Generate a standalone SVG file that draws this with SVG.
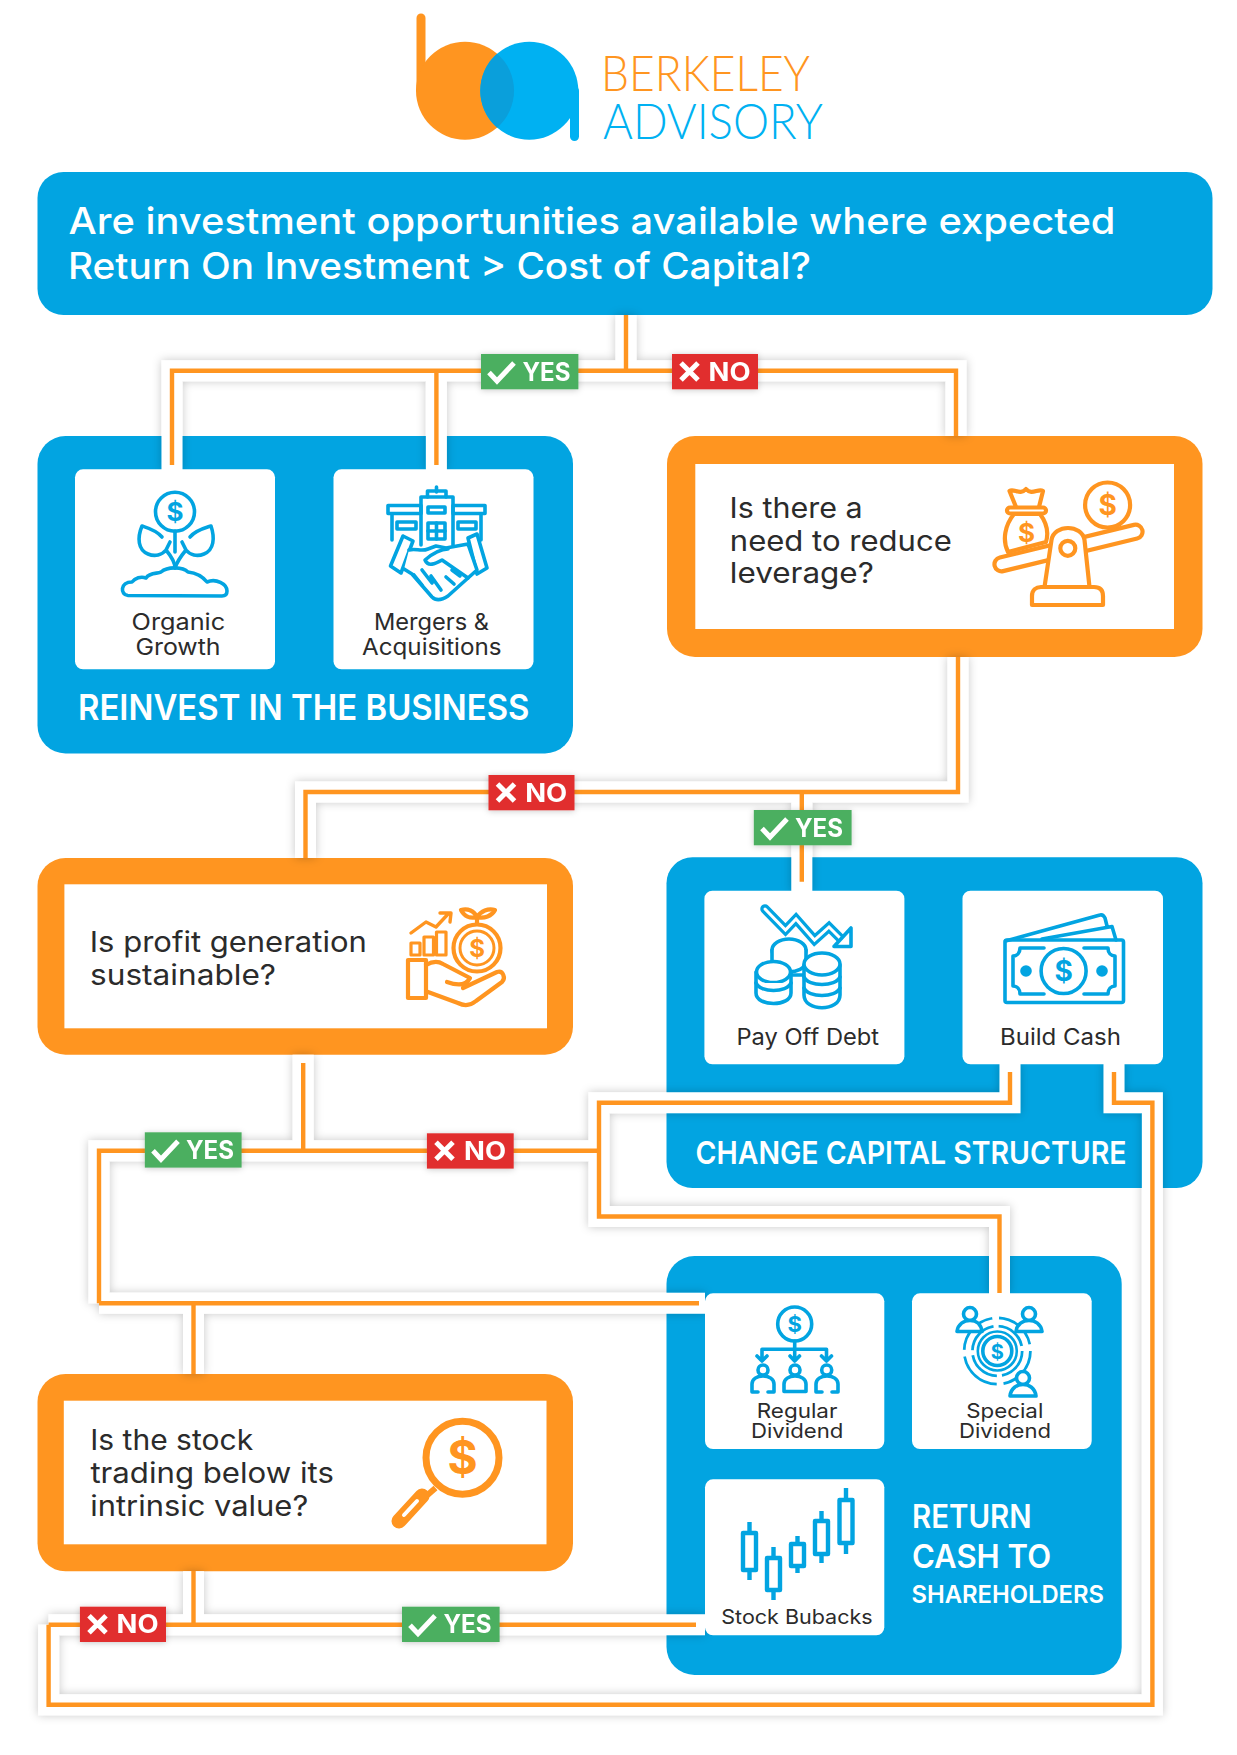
<svg xmlns="http://www.w3.org/2000/svg" xmlns:xlink="http://www.w3.org/1999/xlink" width="1237" height="1755" viewBox="0 0 1237 1755">
<style>
text{font-family:"Inter","Noto Sans","Liberation Sans",sans-serif}
.blue{fill:#02a4e1}.orange{fill:#ff9520}.white{fill:#fff}
.q{font-size:28.5px;font-weight:400;fill:#2b2b2b}
.c{font-size:22.5px;font-weight:400;fill:#2b2b2b}
.s{font-size:20px;font-weight:400;fill:#2b2b2b}
.h{font-size:37px;font-weight:500;fill:#fff}
.g{font-weight:600;fill:#fff}
.b{font-size:25px;font-weight:700;fill:#fff}
.halo{fill:none;stroke:#fff;stroke-width:21;stroke-linejoin:miter}
.wire{fill:none;stroke:#ff9520;stroke-width:4.4;stroke-linejoin:miter}
.ib{fill:none;stroke:#02a4e1;stroke-width:3.6;stroke-linecap:round;stroke-linejoin:round}
.io{fill:none;stroke:#ff9520;stroke-width:4.2;stroke-linecap:round;stroke-linejoin:round}
.fw{fill:#fff}
.db{fill:#02a4e1;font-weight:700;text-anchor:middle}
.do{fill:#ff9520;font-weight:700;text-anchor:middle}
.mk{fill:none;stroke:#fff;stroke-width:5}
.gn{fill:#4caf60}.rd{fill:#e12f2f}
</style>
<defs>
<filter id="sh" filterUnits="userSpaceOnUse" x="0" y="0" width="1237" height="1755"><feDropShadow dx="0" dy="0" stdDeviation="5" flood-color="#000" flood-opacity="0.22"/></filter>
<filter id="bs" x="-20%" y="-30%" width="140%" height="160%"><feDropShadow dx="0" dy="1" stdDeviation="3" flood-color="#000" flood-opacity="0.2"/></filter>
<path id="check" class="mk" d="M0 10.5 L8 19 L25 1"/>
<path id="cross" class="mk" d="M1 1 L18 18 M18 1 L1 18" stroke-width="5.5"/>
</defs>
<rect width="1237" height="1755" fill="#fff"/>

<g id="logo">
<path d="M421 18 V90.7 M421 90.7" fill="none" stroke="#ff9520" stroke-width="9" stroke-linecap="round"/>
<circle cx="465" cy="90.7" r="49" fill="#ff9520"/>
<circle cx="529.3" cy="90.7" r="49" fill="#00b1f2"/>
<path d="M574.5 90.7 V136.5" fill="none" stroke="#00b1f2" stroke-width="9" stroke-linecap="round"/>
<path d="M497.15 53.7 A49 49 0 0 1 497.15 127.7 A49 49 0 0 1 497.15 53.7Z" fill="#0a9fdb"/>
<text x="601" y="90.5" font-size="50" font-weight="300" fill="#ff9520" textLength="209" lengthAdjust="spacingAndGlyphs" style="font-family:Lato,'Open Sans',sans-serif">BERKELEY</text>
<text x="603" y="139" font-size="49" font-weight="300" fill="#00b1f2" textLength="220" lengthAdjust="spacingAndGlyphs" style="font-family:Lato,'Open Sans',sans-serif">ADVISORY</text>
</g>

<g id="n-header">
<rect x="37.5" y="172" width="1175" height="143" rx="26" class="blue"/>
<text x="68.5" y="234" class="h" textLength="1047" lengthAdjust="spacingAndGlyphs">Are investment opportunities available where expected</text>
<text x="68" y="279" class="h" textLength="743" lengthAdjust="spacingAndGlyphs">Return On Investment &gt; Cost of Capital?</text>
</g>

<g id="n-reinvest">
<rect x="37.5" y="436" width="535.5" height="317.5" rx="28" class="blue"/>
<text x="78" y="719.5" class="g" font-size="36" textLength="451.5" lengthAdjust="spacingAndGlyphs">REINVEST IN THE BUSINESS</text>
</g>
<g id="n-leverage">
<rect x="667" y="436" width="535.5" height="221" rx="28" class="orange"/>
<rect x="695.3" y="464" width="478.7" height="165" class="white"/>
<text x="729.6" y="517.7" class="q" textLength="133" lengthAdjust="spacingAndGlyphs">Is there a</text>
<text x="729.8" y="550.5" class="q" textLength="222" lengthAdjust="spacingAndGlyphs">need to reduce</text>
<text x="729.8" y="583.3" class="q" textLength="144" lengthAdjust="spacingAndGlyphs">leverage?</text>
<g>
<rect x="992.5" y="541" width="152" height="14" rx="7" class="io fw" transform="rotate(-13.7 1068.5 548)"/>
<path class="io fw" d="M1014 514 C1005 525 1002 540 1008 552 L1046 542 C1049 532 1046 522 1040 514Z"/>
<path class="io" d="M1016 507 L1009.5 491 C1014 488 1020 496 1026 489 C1032 496 1038 488 1043 491 L1039 507"/>
<rect x="1007" y="507.5" width="39" height="6" rx="3" class="io fw"/>
<text x="1026.5" y="542" font-size="26" class="do">$</text>
<circle cx="1107.6" cy="505" r="22.5" class="io fw"/>
<text x="1107.6" y="515" font-size="28" class="do">$</text>
<path class="io fw" d="M1044.5 587 L1051.5 540 C1054 524 1082 524 1084.5 540 L1089.5 587Z"/>
<circle cx="1067.8" cy="548.3" r="7.5" class="io fw"/>
<path class="io fw" d="M1032 605 V596 C1032 590 1036 587 1041 587 H1094 C1100 587 1103 590 1103 596 V605Z"/>
</g>
</g>
<g id="n-change">
<rect x="666.5" y="857.3" width="536" height="330.7" rx="26" class="blue"/>
<text x="695.5" y="1164.3" class="g" font-size="31.5" textLength="431" lengthAdjust="spacingAndGlyphs">CHANGE CAPITAL STRUCTURE</text>
</g>
<g id="n-return">
<rect x="666.5" y="1256" width="455.2" height="419" rx="28" class="blue"/>
<text x="912" y="1528" class="g" font-size="32" textLength="119.5" lengthAdjust="spacingAndGlyphs">RETURN</text>
<text x="912" y="1568" class="g" font-size="32" textLength="139" lengthAdjust="spacingAndGlyphs">CASH TO</text>
<text x="911.5" y="1602.5" class="g" font-size="24" textLength="192.5" lengthAdjust="spacingAndGlyphs">SHAREHOLDERS</text>
</g>
<g id="n-sustain">
<rect x="37.5" y="858" width="535.5" height="196.7" rx="28" class="orange"/>
<rect x="64.4" y="884.3" width="482.6" height="144" class="white"/>
<text x="89.8" y="951.5" class="q" textLength="277" lengthAdjust="spacingAndGlyphs">Is profit generation</text>
<text x="90" y="984.8" class="q" textLength="186" lengthAdjust="spacingAndGlyphs">sustainable?</text>
<g>
<circle cx="477" cy="948" r="23.5" class="io"/>
<circle cx="477" cy="948" r="17" class="io" style="stroke-width:3"/>
<text x="477" y="957" font-size="24" class="do">$</text>
<path class="io" d="M477 924 V916 M477 917 C470 919 464 916 461 910 C468 908 474 911 477 917 C481 911 488 908 495 910 C492 916 484 919 477 917"/>
<rect x="411" y="943" width="9" height="12" class="io" style="stroke-width:3.2"/>
<rect x="424" y="937" width="9.5" height="18" class="io" style="stroke-width:3.2"/>
<rect x="436.5" y="932" width="9.5" height="23" class="io" style="stroke-width:3.2"/>
<path class="io" style="stroke-width:3.4" d="M411 933 L426 922 L436 927 L449 913 M440 913 H451 L450 922"/>
<rect x="408" y="960" width="18" height="38" class="io"/>
<path class="io" d="M426 965 C433 961 438 961 443 964 L470 978 C466 986 458 986 447 982 M463 988 L497 972 C503 970 506 978 502 982 L476 1001 C470 1006 464 1006 458 1003 L428 992"/>
</g>
</g>
<g id="n-stock">
<rect x="37.5" y="1374" width="535.5" height="197.3" rx="28" class="orange"/>
<rect x="63.8" y="1400.7" width="482.7" height="143.6" class="white"/>
<text x="90.2" y="1449.8" class="q" textLength="163" lengthAdjust="spacingAndGlyphs">Is the stock</text>
<text x="90.4" y="1482.7" class="q" textLength="243.5" lengthAdjust="spacingAndGlyphs">trading below its</text>
<text x="90.2" y="1516" class="q" textLength="218" lengthAdjust="spacingAndGlyphs">intrinsic value?</text>
<g>
<circle cx="462.5" cy="1457.7" r="36.5" fill="none" stroke="#ff9520" stroke-width="7"/>
<text x="462.5" y="1474" font-size="46" class="do">$</text>
<path d="M435.5 1488 L424 1498" fill="none" stroke="#ff9520" stroke-width="6"/>
<path d="M422 1496 L399 1521" fill="none" stroke="#ff9520" stroke-width="15" stroke-linecap="round"/>
<path d="M417 1501 L404 1515" fill="none" stroke="#fff" stroke-width="4" stroke-linecap="round"/>
</g>
</g>

<g id="connectors">
<g filter="url(#sh)">
<path class="halo" d="M172 470 V370.7 H956 V436 M436.4 470 V370.7 M626 315 V370.7"/>
<path class="halo" d="M958 657 V792 H305.5 V858 M801.8 792 V892"/>
<path class="halo" d="M303.2 1054.7 V1150.7 M99 1303.3 V1150.7 H599"/>
<path class="halo" d="M1010 1063 V1102.7 H599 V1216.5 H999.5 V1294"/>
<path class="halo" d="M99 1303.3 H705 M193.5 1303.3 V1374 M193.5 1571.3 V1624.7 M48.6 1624.7 H705 M48.6 1624.7 V1704.7 H1152.4 V1102.7 H1114 V1063"/>
</g>
<path class="wire" d="M172 465 V370.7 H956 V436 M436.4 465 V370.7 M626 315 V370.7"/>
<path class="wire" d="M958 657 V792 H305.5 V858 M801.8 792 V881.7"/>
<path class="wire" d="M303.2 1063 V1150.7 M99 1303.3 V1150.7 H599"/>
<path class="wire" d="M1010 1072 V1102.7 H599 V1216.5 H999.5 V1293"/>
<path class="wire" d="M99 1303.3 H699 M193.5 1303.3 V1374 M193.5 1571 V1624.7 M48.6 1624.7 H696 M48.6 1624.7 V1704.7 H1152.4 V1102.7 H1114 V1072"/>
</g>

<g id="n-organic">
<rect x="75" y="469.3" width="200" height="200" rx="8" class="white"/>
<circle cx="175" cy="511.7" r="19.5" class="ib"/>
<text x="175" y="521" font-size="26" class="db">$</text>
<path class="ib" d="M175 531 V552"/>
<path class="ib" d="M162 537 C156 530 148 528 142 526 C137 538 138 550 148 554 C155 557 162 555 166 550 L170 542 M166 550 C171 556 175 562 175 568"/>
<path class="ib" d="M190 537 C196 530 205 528 211 526 C215 538 214 550 204 554 C197 557 190 555 186 550 L182 542 M186 550 C181 556 177 562 175 568"/>
<path class="ib" d="M128 595.5 C120 595 120 582 132 582 C135 578 141 576 146 578 C150 572 158 574 161 572 C168 566 183 567 188 572 C197 573 203 577 207 582 C216 578 227 584 227 591 C227 595 225 596 222 596Z"/>
<text x="131.6" y="630" class="c" textLength="93.6" lengthAdjust="spacingAndGlyphs">Organic</text>
<text x="135.4" y="655" class="c" textLength="85.2" lengthAdjust="spacingAndGlyphs">Growth</text>
</g>
<g id="n-mergers">
<rect x="333.5" y="469.3" width="200" height="200" rx="8" class="white"/>
<path class="ib" d="M436.5 487 V492 M427.5 497 V491 H446 V497"/>
<path class="ib" d="M421 545 V497 H453 V545"/>
<rect x="388" y="505.5" width="33" height="8" class="ib"/><rect x="453" y="505.5" width="32" height="8" class="ib"/>
<path class="ib" d="M392 514 V540 M481 514 V540"/>
<rect x="428" y="507" width="17" height="6" class="ib"/>
<rect x="428" y="523" width="17" height="16" class="ib"/><path class="ib" d="M436.5 523 V539 M428 531 H445"/>
<rect x="397" y="522" width="19" height="7" class="ib"/><rect x="458" y="522" width="18" height="7" class="ib"/>
<path class="ib fw" d="M403 536 L413 541 L401 573 L390.5 566Z"/>
<path class="ib fw" d="M468 538 L477 534 L487 568 L477 574Z"/>
<path class="ib fw" d="M409 550 C416 548 421 552 428 549 L436 546 L446 548 L468 544 L477 570 L468 578 L448 596 C442 600 436 601 432 597 L412 574 L404 569"/>
<path class="ib" d="M448 549 C440 549 432 554 425 560 C428 567 435 564 442 560 L468 578"/>
<path class="ib" d="M414 575 L422 585 M422 570 L432 583 M431 576 L441 590 M452 570 L460 576 M446 577 L454 584"/>
<text x="374" y="630" class="c" textLength="115" lengthAdjust="spacingAndGlyphs">Mergers &amp;</text>
<text x="362" y="655" class="c" textLength="139.5" lengthAdjust="spacingAndGlyphs">Acquisitions</text>
</g>
<g id="n-payoff">
<rect x="704.4" y="890.7" width="200" height="173.6" rx="8" class="white"/>
<path d="M765 909 L785.5 930 L796 919 L814.5 940 L829 927 L843 941" fill="none" stroke="#02a4e1" stroke-width="9.5" stroke-linecap="round" stroke-linejoin="miter"/>
<path d="M765 909 L785.5 930 L796 919 L814.5 940 L829 927 L844 942" fill="none" stroke="#fff" stroke-width="3" stroke-linecap="round" stroke-linejoin="miter"/>
<path class="ib fw" d="M851 928 V946.5 H834 Z"/>
<g class="ib fw">
<ellipse cx="789" cy="950" rx="17" ry="11"/>
<path d="M772 950 V975 H806 V950"/><path d="M772 962 C774 975 804 975 806 962"/>
<path d="M756 972 V993 C756 1007 791 1007 791 993 V972Z"/><ellipse cx="773.5" cy="972" rx="17" ry="10.5"/><path d="M756 983 C760 993 787 993 791 983"/>
<path d="M804 965 V995 C804 1012 840 1012 840 995 V965Z"/><ellipse cx="822" cy="964" rx="18" ry="11"/><path d="M804 977 C808 987 836 987 840 977 M804 988 C808 998 836 998 840 988"/>
</g>
<text x="736.5" y="1045" class="c" textLength="142.5" lengthAdjust="spacingAndGlyphs">Pay Off Debt</text>
</g>
<g id="n-cash">
<rect x="962.5" y="890.7" width="200.5" height="173.6" rx="8" class="white"/>
<path class="ib" d="M1005.5 941 L1100 915 C1103 914 1104 916 1105 918 L1107 926 M1042 939 L1112 926.5 L1116 940"/>
<rect x="1005" y="940" width="118.5" height="62.5" rx="2" class="ib"/>
<path class="ib" d="M1044 948 H1020 C1020 953 1017 956 1013 956 V986 C1017 986 1020 989 1020 994 H1044 M1084 948 H1108 C1108 953 1111 956 1115 956 V986 C1111 986 1108 989 1108 994 H1084"/>
<ellipse cx="1063.6" cy="971" rx="22.5" ry="22.5" class="ib"/>
<text x="1063.6" y="981" font-size="28" class="db">$</text>
<circle cx="1026" cy="971" r="5.8" class="blue"/><circle cx="1102" cy="971" r="5.8" class="blue"/>
<text x="1000" y="1045" class="c" textLength="121" lengthAdjust="spacingAndGlyphs">Build Cash</text>
</g>
<g id="n-regular">
<rect x="705" y="1293.3" width="179.3" height="155.7" rx="8" class="white"/>
<circle cx="794.7" cy="1324" r="17" class="ib"/>
<text x="794.7" y="1332" font-size="22" class="db">$</text>
<path class="ib" d="M794.7 1341 V1358 M762 1358 V1349.3 H826.5 V1358 M757 1356 L762 1361 L767 1356 M790 1356 L794.7 1361 L799.5 1356 M821.5 1356 L826.5 1361 L831.5 1356"/>
<g class="ib">
<circle cx="763" cy="1370" r="5"/><path d="M752 1392 V1384 C752 1379 757 1376 763 1376 C769 1376 774 1379 774 1384 V1392 M752 1392 H758 M768 1392 H774"/>
<circle cx="795" cy="1370" r="5"/><path d="M784 1391.5 V1384 C784 1379 789 1376 795 1376 C801 1376 806 1379 806 1384 V1391.5Z"/>
<circle cx="826.7" cy="1370" r="5"/><path d="M816 1392 V1384 C816 1379 821 1376 827 1376 C833 1376 838 1379 838 1384 V1392 M816 1392 H822 M832 1392 H838"/>
</g>
<text x="756.7" y="1417.7" class="s" textLength="80.7" lengthAdjust="spacingAndGlyphs">Regular</text>
<text x="751" y="1437.7" class="s" textLength="92.3" lengthAdjust="spacingAndGlyphs">Dividend</text>
</g>
<g id="n-special">
<rect x="912" y="1293.3" width="179.7" height="155.7" rx="8" class="white"/>
<circle cx="997.3" cy="1351" r="29" fill="none" stroke="#02a4e1" stroke-width="11" stroke-dasharray="40 6 40 6 40 6 38 6"/>
<circle cx="997.3" cy="1351" r="29" fill="none" stroke="#fff" stroke-width="5.5"/>
<circle cx="997.3" cy="1351" r="19.5" class="ib" style="stroke-width:2.6"/><circle cx="997.3" cy="1351" r="14.5" class="ib"/>
<text x="997.3" y="1358.5" font-size="20" class="db">$</text>
<g class="ib fw">
<circle cx="970" cy="1314" r="6.5"/><path d="M957 1331.5 C958 1324 964 1320.5 970 1320.5 C976 1320.5 981 1324 982 1331.5Z"/>
<circle cx="1029" cy="1314" r="6.5"/><path d="M1016 1331.5 C1017 1324 1023 1320.5 1029 1320.5 C1035 1320.5 1041 1324 1042 1331.5Z"/>
<circle cx="1023" cy="1378" r="6.5"/><path d="M1010 1396 C1011 1388 1017 1384.5 1023 1384.5 C1029 1384.5 1035 1388 1036 1396Z"/>
</g>
<text x="966.3" y="1417.7" class="s" textLength="77" lengthAdjust="spacingAndGlyphs">Special</text>
<text x="959" y="1437.7" class="s" textLength="92" lengthAdjust="spacingAndGlyphs">Dividend</text>
</g>
<g id="n-bubacks">
<rect x="705" y="1479.3" width="179.3" height="156" rx="8" class="white"/>
<g class="ib" style="stroke-width:4.4;stroke-linecap:butt">
<rect x="743" y="1533" width="13" height="37"/><path d="M749.5 1522 V1533 M749.5 1570 V1580"/>
<rect x="767" y="1558" width="13" height="32"/><path d="M773.5 1547 V1558 M773.5 1590 V1600"/>
<rect x="791" y="1544" width="13" height="22"/><path d="M797.5 1536 V1544 M797.5 1566 V1573"/>
<rect x="815" y="1521" width="13" height="33"/><path d="M821.5 1511 V1521 M821.5 1554 V1563"/>
<rect x="839.5" y="1500" width="13" height="43"/><path d="M846 1488 V1500 M846 1543 V1554"/>
</g>
<text x="721.3" y="1624" class="s" textLength="151.3" lengthAdjust="spacingAndGlyphs">Stock Bubacks</text>
</g>

<g id="badge-yes-1" filter="url(#bs)"><rect x="481" y="354" width="97.4" height="35.3" class="gn"/><use xlink:href="#check" href="#check" x="489" y="362"/><text x="522.5" y="380.7" class="b" textLength="48" lengthAdjust="spacingAndGlyphs">YES</text></g>
<g id="badge-no-1" filter="url(#bs)"><rect x="672" y="354" width="86" height="35.3" class="rd"/><use xlink:href="#cross" href="#cross" x="680" y="362"/><text x="708.6" y="380.7" class="b" textLength="42" lengthAdjust="spacingAndGlyphs">NO</text></g>
<g id="badge-no-2" filter="url(#bs)"><rect x="488.5" y="775" width="86" height="35.3" class="rd"/><use xlink:href="#cross" href="#cross" x="496.5" y="783"/><text x="525.2" y="801.7" class="b" textLength="42" lengthAdjust="spacingAndGlyphs">NO</text></g>
<g id="badge-yes-2" filter="url(#bs)"><rect x="753.8" y="810" width="97.8" height="35.3" class="gn"/><use xlink:href="#check" href="#check" x="762" y="818"/><text x="795" y="836.7" class="b" textLength="48" lengthAdjust="spacingAndGlyphs">YES</text></g>
<g id="badge-yes-3" filter="url(#bs)"><rect x="144.8" y="1132.3" width="96.8" height="35.3" class="gn"/><use xlink:href="#check" href="#check" x="153" y="1140.3"/><text x="186" y="1159" class="b" textLength="48" lengthAdjust="spacingAndGlyphs">YES</text></g>
<g id="badge-no-3" filter="url(#bs)"><rect x="426.9" y="1133.3" width="86.8" height="35.3" class="rd"/><use xlink:href="#cross" href="#cross" x="435" y="1141.3"/><text x="464" y="1160" class="b" textLength="42" lengthAdjust="spacingAndGlyphs">NO</text></g>
<g id="badge-no-4" filter="url(#bs)"><rect x="79.9" y="1606.7" width="86.1" height="35.3" class="rd"/><use xlink:href="#cross" href="#cross" x="88" y="1614.7"/><text x="116.5" y="1633.3" class="b" textLength="42" lengthAdjust="spacingAndGlyphs">NO</text></g>
<g id="badge-yes-4" filter="url(#bs)"><rect x="402" y="1606.7" width="97.6" height="35.3" class="gn"/><use xlink:href="#check" href="#check" x="410" y="1614.7"/><text x="443.5" y="1633.3" class="b" textLength="48" lengthAdjust="spacingAndGlyphs">YES</text></g>
</svg>
